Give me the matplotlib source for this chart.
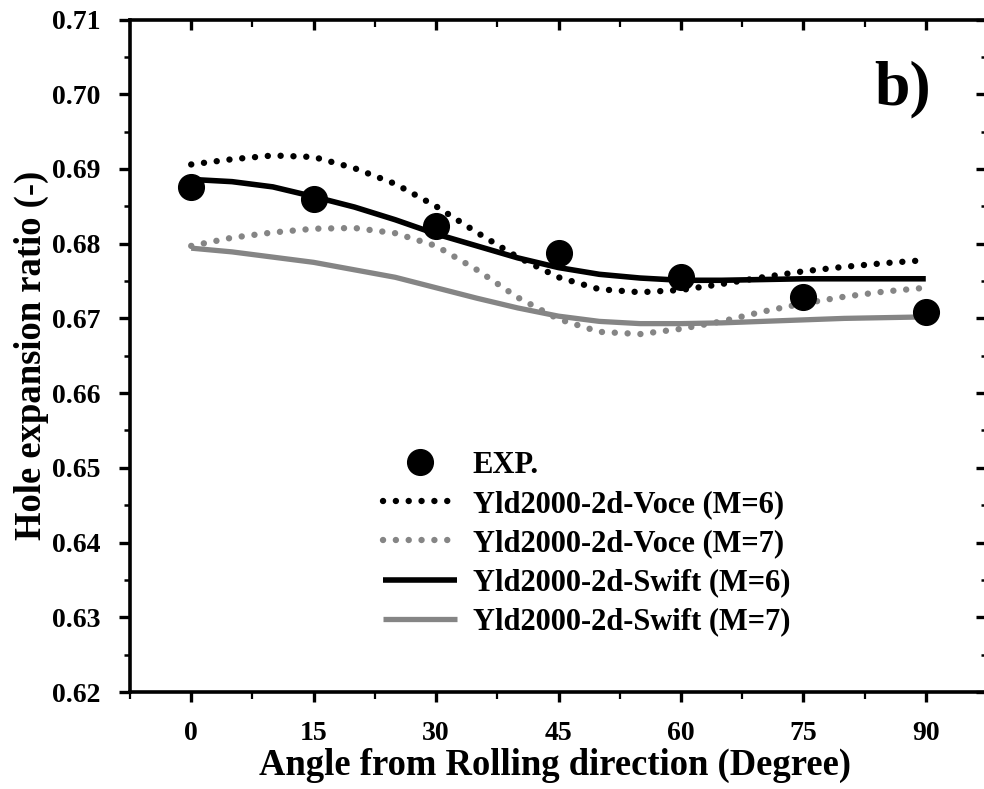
import matplotlib
matplotlib.use("Agg")
import matplotlib.pyplot as plt
from matplotlib.ticker import MultipleLocator, FormatStrFormatter

plt.rcParams['font.family'] = ['Liberation Serif', 'DejaVu Serif']
plt.rcParams['font.weight'] = 'bold'

angles_exp = [0, 15, 30, 45, 60, 75, 90]
exp_vals = [0.6876, 0.6860, 0.6823, 0.6788, 0.6756, 0.6728, 0.6709]

angles = [0, 5, 10, 15, 20, 25, 30, 35, 40, 45, 50, 55, 60, 65, 70, 75, 80, 85, 90]
voce_m6 = [0.6906, 0.6913, 0.6918, 0.6916, 0.6901, 0.6880, 0.6850, 0.6815, 0.6782, 0.6755,
           0.6739, 0.6735, 0.6738, 0.6746, 0.6755, 0.6763, 0.6769, 0.6774, 0.6778]
voce_m7 = [0.6797, 0.6808, 0.6815, 0.6820, 0.6821, 0.6814, 0.6797, 0.6765, 0.6728, 0.6699,
           0.6682, 0.6679, 0.6686, 0.6696, 0.6709, 0.6720, 0.6729, 0.6736, 0.6741]
swift_m6 = [0.6886, 0.6883, 0.6876, 0.6863, 0.6849, 0.6832, 0.6813, 0.6797, 0.6781, 0.6768,
            0.6759, 0.6754, 0.6751, 0.6751, 0.6752, 0.6753, 0.6753, 0.6753, 0.6753]
swift_m7 = [0.6794, 0.6789, 0.6782, 0.6775, 0.6765, 0.6755, 0.6741, 0.6727, 0.6714, 0.6703,
            0.6696, 0.6693, 0.6693, 0.6694, 0.6696, 0.6698, 0.6700, 0.6701, 0.6702]

labels = ["EXP.", "Yld2000-2d-Voce (M=6)", "Yld2000-2d-Voce (M=7)",
          "Yld2000-2d-Swift (M=6)", "Yld2000-2d-Swift (M=7)"]

W, H = 984, 789
fig = plt.figure(figsize=(W / 100, H / 100), dpi=100)
ax = fig.add_axes([130 / W, (H - 692) / H, (987 - 130) / W, (692 - 19.5) / H])

gray = '#858585'
dot = (0, (0.01, 2.0))
l1, = ax.plot(angles, voce_m6, color='black', lw=4.6, linestyle=dot, dash_capstyle='round', zorder=2)
l2, = ax.plot(angles, voce_m7, color=gray, lw=4.6, linestyle=dot, dash_capstyle='round', zorder=2)
l3, = ax.plot(angles, swift_m6, color='black', lw=4.0, solid_capstyle='butt', zorder=3)
l4, = ax.plot(angles, swift_m7, color=gray, lw=3.8, solid_capstyle='butt', zorder=2)
l0, = ax.plot(angles_exp, exp_vals, 'o', color='black', ms=18.5, zorder=4)

ax.set_xlim(-7.5, 97.5)
ax.set_ylim(0.62, 0.71)
ax.xaxis.set_major_locator(MultipleLocator(15))
ax.xaxis.set_minor_locator(MultipleLocator(7.5))
ax.yaxis.set_major_locator(MultipleLocator(0.01))
ax.yaxis.set_minor_locator(MultipleLocator(0.005))
ax.yaxis.set_major_formatter(FormatStrFormatter('%.2f'))

for s in ax.spines.values():
    s.set_linewidth(2.6)

ax.tick_params(axis='x', which='major', direction='out', length=7, width=2.4,
               labelsize=20, pad=14, top=True)
ax.tick_params(axis='x', which='minor', direction='out', length=5, width=1.6, top=True)
ax.tick_params(axis='y', which='major', direction='out', length=8, width=2.4,
               labelsize=20, pad=13, right=True)
ax.tick_params(axis='y', which='minor', direction='out', length=4.5, width=1.8, right=True)
# top/right ticks point inward
for t in ax.xaxis.get_major_ticks() + ax.xaxis.get_minor_ticks():
    t.tick2line.set_marker(matplotlib.lines.TICKDOWN)
for t in ax.yaxis.get_major_ticks() + ax.yaxis.get_minor_ticks():
    t.tick2line.set_marker(matplotlib.lines.TICKLEFT)

for lab in ax.get_xticklabels() + ax.get_yticklabels():
    lab.set_fontweight('bold')

fig.text(555 / W, 1 - 765 / H, "Angle from Rolling direction (Degree)", fontsize=26.4,
         fontweight='bold', ha='center', va='center')
fig.text(31 / W, 1 - 355 / H, "Hole expansion ratio (-)", fontsize=26.4,
         fontweight='bold', ha='center', va='center', rotation=90)

fig.text(903 / W, 1 - 89 / H, "b)", fontsize=46, fontweight='bold',
         ha='center', va='center')

leg = ax.legend([l0, l1, l2, l3, l4], labels, loc='upper left',
                bbox_to_anchor=(383 / W, 1 - 451 / H), bbox_transform=fig.transFigure,
                frameon=False, borderpad=0, borderaxespad=0,
                handlelength=2.42, handletextpad=0.52, labelspacing=0.33,
                prop={'weight': 'bold', 'size': 22}, numpoints=1)

fig.savefig("out.png", dpi=100)
